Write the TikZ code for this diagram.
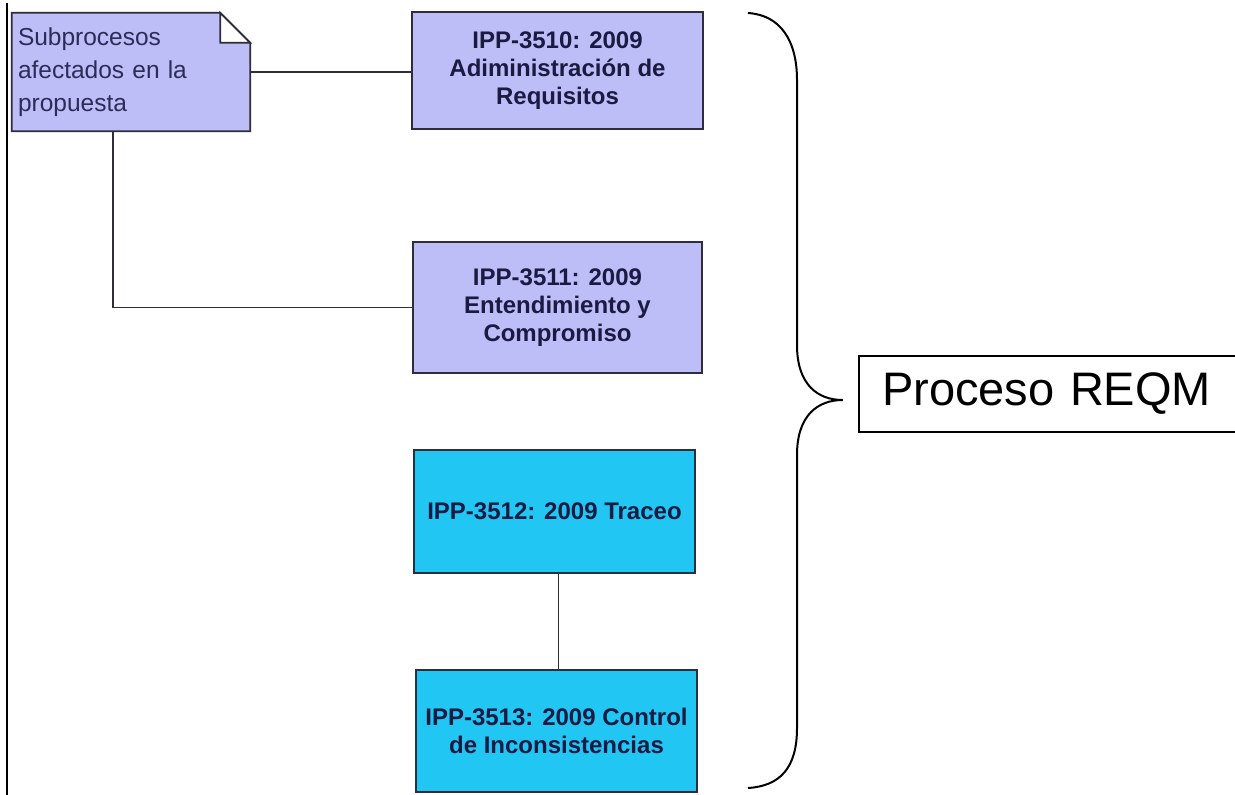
\documentclass[tikz,border=0pt]{standalone}
\usepackage{fontspec}
\setmainfont{Liberation Sans}
\usetikzlibrary{backgrounds,calc}
\definecolor{lav}{HTML}{BDBDF7}
\definecolor{cyanbox}{HTML}{22C6F2}
\definecolor{boxline}{HTML}{2E2E3A}
\definecolor{navytext}{HTML}{1A1A42}
\definecolor{notetext}{HTML}{2C2C58}
\tikzset{
  ipp/.style={draw=boxline, line width=1.8pt, align=center, text=navytext,
    font=\fontsize{24}{28}\selectfont\bfseries, inner sep=4pt},
  lavbox/.style={ipp, fill=lav},
  cyanbx/.style={ipp, fill=cyanbox},
  link/.style={draw=boxline, line width=1.6pt},
  brace/.style={draw=black, line width=2pt},
}
\begin{document}
\begin{tikzpicture}[x=1pt,y=-1pt]
\useasboundingbox (0,0) rectangle (1235,795);
% left border line
\draw[line width=2pt] (7,3) -- (7,795);

% note
\node[minimum width=238pt, minimum height=118pt, inner xsep=6pt, inner ysep=0pt,
  text width=226pt, align=left, text=notetext,
  font=\fontsize{24.5}{33}\selectfont] (note) at (131,72)
  {Subprocesos\\afectados en la\\propuesta};
\begin{scope}[on background layer]
  \fill[white] (0,0) rectangle (1235,795);
  \filldraw[fill=lav, draw=boxline, line width=1.8pt]
    (note.north west) -- ($(note.north east)+(-30,0)$) -- ($(note.north east)+(0,30)$)
    -- (note.south east) -- (note.south west) -- cycle;
  \filldraw[fill=white, draw=boxline, line width=1.8pt]
    ($(note.north east)+(-30,0)$) -- ($(note.north east)+(-30,30)$) -- ($(note.north east)+(0,30)$) -- cycle;
\end{scope}

% boxes
\node[lavbox, minimum width=291pt, minimum height=117pt] (b1) at (557.5,70.5)
  {IPP-3510: 2009\\Adiministración de\\Requisitos};
\node[lavbox, minimum width=289pt, minimum height=131pt] (b2) at (557.5,307.5)
  {IPP-3511: 2009\\Entendimiento y\\Compromiso};
\node[cyanbx, minimum width=281pt, minimum height=123pt] (b3) at (554.5,511.5)
  {IPP-3512: 2009 Traceo};
\node[cyanbx, minimum width=281pt, minimum height=122pt] (b4) at (556.5,731)
  {IPP-3513: 2009 Control\\de Inconsistencias};

% connectors
\draw[link] (note.east) -- (note.east -| b1.west);
\draw[link] ($(note.south west)+(101,0)$) |- (b2.west);
\draw[link] ($(b3.south)+(4,0)$) -- ($(b3.south |- b4.north)+(4,0)$);

% Proceso REQM label
\node[minimum width=376pt, minimum height=76pt, inner xsep=23pt, text width=330pt,
  align=left, font=\fontsize{47}{50}\selectfont] (reqm) at (1047,394) {Proceso REQM};
\draw[line width=1.6pt] (reqm.north east) -- (reqm.north west) -- (reqm.south west) -- (reqm.south east);

% brace
\coordinate (tip) at ($(reqm.west)+(-16,6)$);
\draw[brace] (748,13) .. controls (780,15) and (797,40) .. (797,80)
  -- (797,345) .. controls (797,385) and (818,400) .. (tip)
  .. controls (818,400) and (797,415) .. (797,455)
  -- (797,728) .. controls (797,768) and (780,786) .. (748,788);
\end{tikzpicture}
\end{document}
